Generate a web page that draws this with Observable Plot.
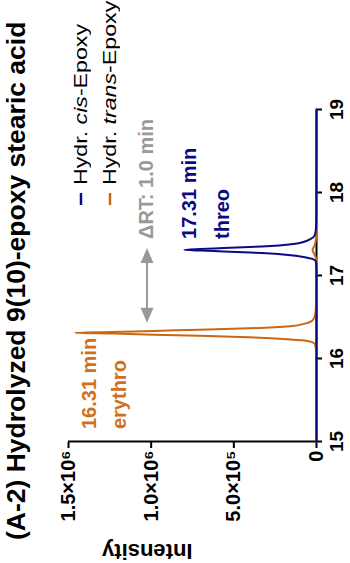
<!DOCTYPE html>
<html><head><meta charset="utf-8">
<script src="https://cdn.jsdelivr.net/npm/d3@7"></script>
<script src="https://cdn.jsdelivr.net/npm/@observablehq/plot@0.6"></script>
<style>
html,body{margin:0;padding:0;background:#fff;overflow:hidden;width:350px;height:563px;}
#rot{position:absolute;left:0;top:0;width:563px;height:350px;transform-origin:0 0;transform:translate(0,563px) rotate(-90deg);font-family:"Liberation Sans",Arial,sans-serif;background:#fff;}
#chart{position:absolute;left:0;top:0;}
#title{position:absolute;left:23px;top:3px;font-size:26.5px;font-weight:bold;white-space:nowrap;line-height:1;color:#000;}
.leg{position:absolute;left:358px;font-size:19px;line-height:22px;white-space:nowrap;color:#000;display:flex;align-items:center;}
.leg svg{margin-right:8px;}
.leg span{display:inline-block;transform:scaleX(1.22);transform-origin:0 50%;}
</style></head>
<body><div id="rot"><div id="chart"></div><div id="title"></div></div>
<script>
// ---- data ----
const titleText = "(A-2) Hydrolyzed 9(10)-epoxy stearic acid";
const timeTicks = [15, 16, 17, 18, 19];
const intensityTicks = [0, 5e5, 1e6, 1.5e6];
const intensityTickLabels = ["0", "5.0×10⁵", "1.0×10⁶", "1.5×10⁶"];
const seriesLabels = [["Hydr. ", "cis", "-Epoxy"], ["Hydr. ", "trans", "-Epoxy"]];
const seriesColors = ["#0a0a84", "#cc6610"];

const cisTime = [15.0, 17.0, 17.10, 17.17, 17.20, 17.22, 17.24, 17.27, 17.29, 17.30, 17.31, 17.32, 17.33, 17.35, 17.38, 17.41, 17.44, 17.48, 17.55, 17.70, 19.0];
const cisIntensity = [0, 0, 1000, 4000, 25000, 70000, 140000, 330000, 560000, 700000, 800000, 700000, 560000, 330000, 140000, 70000, 35000, 12000, 4000, 1000, 0];

const transTime = [15.0, 16.0, 16.10, 16.17, 16.20, 16.22, 16.23, 16.26, 16.28, 16.30, 16.31, 16.32, 16.34, 16.36, 16.39, 16.42, 16.45, 16.50, 16.60, 16.80, 17.00, 17.20, 17.26, 17.31, 17.36, 17.45, 17.60, 19.0];
const transIntensity = [0, 1000, 3000, 8000, 30000, 90000, 158000, 460000, 850000, 1230000, 1460000, 1230000, 850000, 460000, 158000, 70000, 30000, 12000, 4000, 2000, 1000, 2000, 14000, 24000, 12000, 3000, 1000, 0];

const annTexts = ["16.31 min", "erythro", "17.31 min", "threo", "ΔRT: 1.0 min"];
const annTime = [15.15, 15.15, 17.44, 17.44, 17.44];
const annIntensity = [1.375e6, 1.19e6, 0.765e6, 0.57e6, 1.025e6];
const annColors = ["#d0701c", "#d0701c", "#0a0a84", "#0a0a84", "#999999"];

const deltaArrowTime = [16.43, 17.33];
const deltaArrowIntensity = 1.025e6;

// ---- build ----
const cis = cisTime.map((t, i) => ({t, v: cisIntensity[i]}));
const trans = transTime.map((t, i) => ({t, v: transIntensity[i]}));
const ann = annTexts.map((s, i) => ({s, t: annTime[i], v: annIntensity[i], c: annColors[i]}));
const tri = {draw(ctx, l, r) { ctx.moveTo(0, -l); ctx.lineTo(-r, 0); ctx.lineTo(r, 0); ctx.closePath(); }};

const plot = Plot.plot({
  width: 563, height: 350,
  marginLeft: 121, marginRight: 110, marginTop: 68, marginBottom: 34,
  style: {fontFamily: '"Liberation Sans", Arial, sans-serif', fontSize: "19px", fontWeight: "bold", color: "#000", background: "transparent", overflow: "visible"},
  x: {domain: [15, 19]},
  y: {domain: [0, 1.5e6]},
  marks: [
    Plot.axisX({ticks: timeTicks, tickSize: 6, tickPadding: 7, strokeWidth: 2, label: null, tickFormat: d => String(d)}),
    Plot.axisY({ticks: intensityTicks, tickSize: 6, tickPadding: 3, strokeWidth: 2, label: null, fontSize: 20,
      tickFormat: d => intensityTickLabels[intensityTicks.indexOf(d)]}),
    Plot.text(["Intensity"], {frameAnchor: "left", rotate: -90, dx: -118, lineAnchor: "top", fontSize: 22, fontWeight: "bold"}),
    Plot.ruleX([15], {strokeWidth: 2}),
    Plot.ruleY([0], {strokeWidth: 2}),
    Plot.line(trans, {x: "t", y: "v", stroke: seriesColors[1], strokeWidth: 2, curve: "monotone-x"}),
    Plot.line(cis, {x: "t", y: "v", stroke: seriesColors[0], strokeWidth: 2, curve: "monotone-x"}),
    Plot.link([0], {x1: () => deltaArrowTime[0] + 0.15, x2: () => deltaArrowTime[1] - 0.15, y1: () => deltaArrowIntensity, y2: () => deltaArrowIntensity, stroke: "#999", strokeWidth: 2}),
    Plot.vector([0, 1], {x: i => deltaArrowTime[i], y: () => deltaArrowIntensity, rotate: i => i === 0 ? -90 : 90, length: 15, r: 6.5, anchor: "end", shape: tri, fill: "#999", stroke: "none"}),
    Plot.text(ann, {x: "t", y: "v", text: "s", fill: "c", textAnchor: "start", lineAnchor: "middle", fontSize: 20, fontWeight: "bold"})
  ]
});
document.getElementById("chart").appendChild(plot);
document.getElementById("title").textContent = titleText;

const rot = document.getElementById("rot");
const legTops = [70, 99];
seriesLabels.forEach((parts, i) => {
  const d = document.createElement("div");
  d.className = "leg";
  d.style.top = legTops[i] + "px";
  d.innerHTML = `<svg width="12" height="4"><line x1="0" y1="2" x2="12" y2="2" stroke="${seriesColors[i]}" stroke-width="2.5"/></svg><span>${parts[0]}<i>${parts[1]}</i>${parts[2]}</span>`;
  rot.appendChild(d);
});
</script>
</body></html>
